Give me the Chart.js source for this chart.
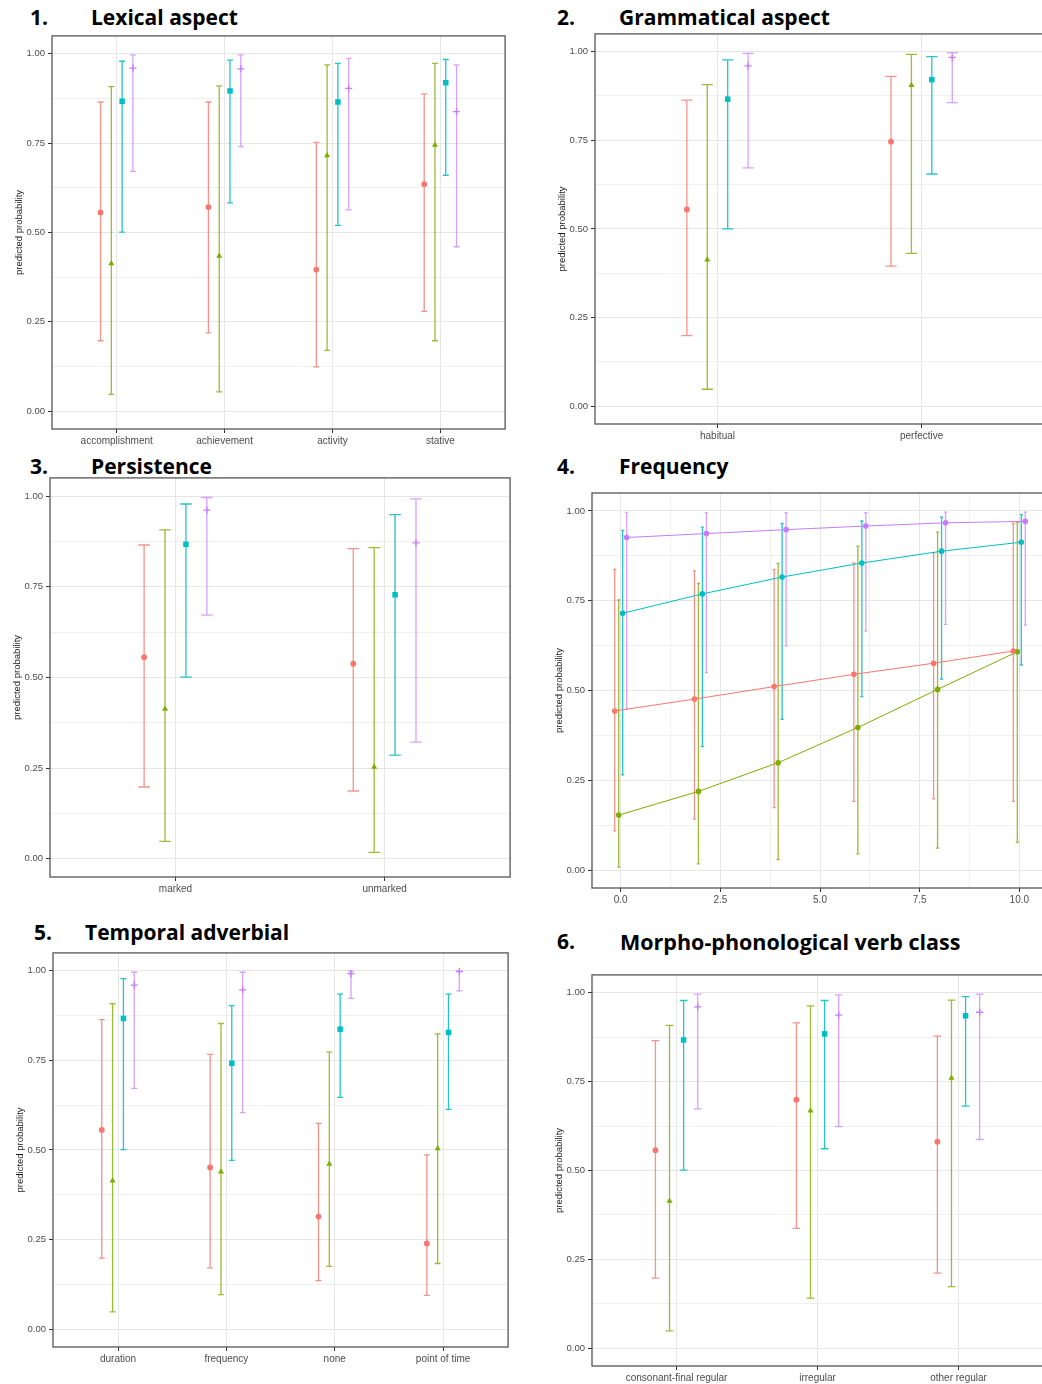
<!DOCTYPE html>
<html>
<head>
<meta charset="utf-8">
<script src="https://cdn.jsdelivr.net/npm/chart.js@4"></script>
<style>
  html, body { margin: 0; padding: 0; background: #fff; overflow: hidden; }
  body { width: 1042px; height: 1384px; position: relative; }
  canvas { position: absolute; }
  .head { position: absolute; font-family: "Open Sans", Lato, sans-serif; font-weight: 700; font-size: 21px; line-height: 21px; color: #000; white-space: nowrap; }
</style>
</head>
<body>
<div class="head" style="left:30px;top:7px">1.</div><div class="head" style="left:91px;top:7px">Lexical aspect</div>
<div class="head" style="left:557px;top:7px">2.</div><div class="head" style="left:619px;top:7px">Grammatical aspect</div>
<div class="head" style="left:30px;top:456px">3.</div><div class="head" style="left:91px;top:456px">Persistence</div>
<div class="head" style="left:557px;top:456px">4.</div><div class="head" style="left:619px;top:456px">Frequency</div>
<div class="head" style="left:34px;top:922px">5.</div><div class="head" style="left:85px;top:922px">Temporal adverbial</div>
<div class="head" style="left:557px;top:931px">6.</div><div class="head" style="left:620px;top:931px;font-size:21.5px">Morpho-phonological verb class</div>

<canvas id="c1"></canvas>
<canvas id="c2"></canvas>
<canvas id="c3"></canvas>
<canvas id="c4"></canvas>
<canvas id="c5"></canvas>
<canvas id="c6"></canvas>

<script>
// groups in ggplot order: red (circle), green (triangle), teal (square), purple (plus)
const seriesColors = ['#F8766D', '#7CAE00', '#00BFC4', '#C77CFF'];
const barColors = ['rgba(240,120,110,0.8)', 'rgba(140,175,20,0.85)', 'rgba(0,185,190,0.85)', 'rgba(200,130,250,0.75)'];
const seriesShapes = ['circle', 'triangle', 'rect', 'cross'];
const dodge = [-0.15, -0.05, 0.05, 0.15];

// 1. Lexical aspect
const lexicalCats = ['accomplishment', 'achievement', 'activity', 'stative'];
const lexicalEst = [
  [0.556, 0.571, 0.396, 0.635],
  [0.413, 0.434, 0.715, 0.745],
  [0.867, 0.896, 0.865, 0.919],
  [0.960, 0.958, 0.903, 0.838]
];
const lexicalLo = [
  [0.197, 0.219, 0.124, 0.279],
  [0.047, 0.054, 0.170, 0.197],
  [0.501, 0.583, 0.520, 0.660],
  [0.671, 0.740, 0.563, 0.460]
];
const lexicalHi = [
  [0.865, 0.865, 0.752, 0.888],
  [0.908, 0.910, 0.969, 0.973],
  [0.979, 0.982, 0.973, 0.984],
  [0.997, 0.997, 0.987, 0.969]
];

// 2. Grammatical aspect
const gramCats = ['habitual', 'perfective'];
const gramEst = [[0.555, 0.746], [0.413, 0.905], [0.866, 0.921], [0.960, 0.984]];
const gramLo = [[0.199, 0.395], [0.048, 0.431], [0.500, 0.655], [0.672, 0.856]];
const gramHi = [[0.863, 0.930], [0.907, 0.992], [0.977, 0.986], [0.995, 0.997]];

// 3. Persistence
const persCats = ['marked', 'unmarked'];
const persEst = [[0.556, 0.538], [0.413, 0.253], [0.867, 0.728], [0.961, 0.871]];
const persLo = [[0.198, 0.187], [0.048, 0.018], [0.501, 0.286], [0.672, 0.322]];
const persHi = [[0.865, 0.855], [0.907, 0.858], [0.978, 0.949], [0.996, 0.992]];

// 4. Frequency
const freqX = [0, 2, 4, 6, 8, 10];
const freqEst = [
  [0.443, 0.476, 0.511, 0.545, 0.576, 0.610],
  [0.153, 0.219, 0.299, 0.397, 0.503, 0.608],
  [0.715, 0.769, 0.816, 0.855, 0.888, 0.913],
  [0.926, 0.937, 0.948, 0.958, 0.967, 0.971]
];
const freqLo = [
  [0.109, 0.142, 0.174, 0.191, 0.198, 0.191],
  [0.008, 0.017, 0.029, 0.045, 0.061, 0.077],
  [0.265, 0.344, 0.420, 0.483, 0.532, 0.571],
  [0.448, 0.550, 0.624, 0.666, 0.684, 0.682]
];
const freqHi = [
  [0.837, 0.833, 0.837, 0.855, 0.883, 0.965],
  [0.752, 0.798, 0.854, 0.902, 0.941, 0.968],
  [0.946, 0.955, 0.965, 0.972, 0.983, 0.990],
  [0.996, 0.995, 0.995, 0.995, 0.997, 0.997]
];

// 5. Temporal adverbial
const tempCats = ['duration', 'frequency', 'none', 'point of time'];
const tempEst = [
  [0.556, 0.451, 0.314, 0.239],
  [0.414, 0.439, 0.461, 0.504],
  [0.867, 0.742, 0.837, 0.828],
  [0.960, 0.947, 0.992, 0.998]
];
const tempLo = [
  [0.198, 0.171, 0.135, 0.094],
  [0.048, 0.096, 0.175, 0.183],
  [0.501, 0.471, 0.647, 0.613],
  [0.672, 0.604, 0.923, 0.944]
];
const tempHi = [
  [0.864, 0.767, 0.574, 0.486],
  [0.908, 0.853, 0.773, 0.824],
  [0.978, 0.903, 0.935, 0.935],
  [0.996, 0.996, 0.999, 1.000]
];

// 6. Morpho-phonological verb class
const verbCats = ['consonant-final regular', 'irregular', 'other regular'];
const verbEst = [[0.557, 0.699, 0.581], [0.414, 0.668, 0.760], [0.867, 0.884, 0.935], [0.960, 0.937, 0.945]];
const verbLo = [[0.197, 0.337, 0.211], [0.049, 0.141, 0.173], [0.501, 0.561, 0.681], [0.673, 0.623, 0.587]];
const verbHi = [[0.865, 0.915, 0.878], [0.908, 0.963, 0.979], [0.978, 0.978, 0.989], [0.996, 0.994, 0.996]];

const yTicks = [0, 0.125, 0.25, 0.375, 0.5, 0.625, 0.75, 0.875, 1];
const isMajor = (v, step) => Math.abs(v / step - Math.round(v / step)) < 1e-6;

// error bars under the points + panel border
const errorBars = {
  id: 'errorBars',
  beforeDatasetsDraw(chart, args, opts) {
    const { ctx, scales: { x, y } } = chart;
    ctx.save();
    chart.data.datasets.forEach(ds => {
      ctx.strokeStyle = ds.barColor;
      ctx.lineWidth = 1.3;
      ds.data.forEach(p => {
        const px = x.getPixelForValue(p.x);
        const half = x.getPixelForValue(p.x + opts.cap / 2) - px;
        const top = y.getPixelForValue(p.hi);
        const bot = y.getPixelForValue(p.lo);
        ctx.beginPath();
        ctx.moveTo(px, top); ctx.lineTo(px, bot);
        ctx.moveTo(px - half, top); ctx.lineTo(px + half, top);
        ctx.moveTo(px - half, bot); ctx.lineTo(px + half, bot);
        ctx.stroke();
      });
    });
    ctx.restore();
  },
  afterDraw(chart) {
    const { ctx, chartArea: a } = chart;
    ctx.save();
    ctx.strokeStyle = '#555';
    ctx.lineWidth = 1.3;
    ctx.strokeRect(a.left, a.top, a.right - a.left, a.bottom - a.top);
    ctx.restore();
  }
};

const Y_W = 42, X_H = 20, PAD = 4;
const pointSizes = [2.9, 3.5, 3.9, 3.6];

function makePanel(id, frame, xs, labels, est, lo, hi, opt) {
  const cv = document.getElementById(id);
  cv.width = frame.r - frame.l + Y_W + PAD;
  cv.height = frame.b - frame.t + X_H + PAD;
  cv.style.left = (frame.l - Y_W) + 'px';
  cv.style.top = (frame.t - PAD) + 'px';

  const datasets = est.map((row, s) => ({
    data: row.map((v, j) => ({ x: xs[j] + dodge[s], y: v, lo: lo[s][j], hi: hi[s][j] })),
    showLine: opt.lines,
    borderColor: seriesColors[s],
    backgroundColor: seriesColors[s],
    borderWidth: 1,
    barColor: barColors[s],
    pointStyle: opt.lines ? 'circle' : seriesShapes[s],
    pointRadius: opt.lines ? 2.8 : pointSizes[s],
    pointBorderWidth: s === 3 && !opt.lines ? 1.3 : 0,
    pointBorderColor: seriesColors[s],
    pointHoverRadius: 3
  }));

  new Chart(cv, {
    type: 'scatter',
    data: { datasets },
    plugins: [errorBars],
    options: {
      responsive: false,
      animation: false,
      events: [],
      layout: { padding: { top: PAD, right: PAD, left: 0, bottom: 0 } },
      plugins: {
        legend: { display: false },
        tooltip: { enabled: false },
        errorBars: { cap: opt.cap }
      },
      scales: {
        x: {
          type: 'linear',
          min: opt.xmin, max: opt.xmax,
          afterBuildTicks: sc => { sc.ticks = opt.xticks.map(v => ({ value: v })); },
          afterFit: sc => { sc.height = X_H; sc.paddingLeft = 0; sc.paddingRight = 0; },
          border: { display: false },
          grid: {
            color: c => isMajor(c.tick.value, opt.xstep) ? '#e6e6e6' : '#f0f0f0',
            tickColor: c => isMajor(c.tick.value, opt.xstep) ? '#333' : 'rgba(0,0,0,0)',
            tickLength: 4,
            lineWidth: 1
          },
          ticks: {
            autoSkip: false, maxRotation: 0, padding: 2,
            color: '#4d4d4d',
            font: { family: 'Liberation Sans, Arial, sans-serif', size: 10 },
            callback: v => labels ? (labels[v] !== undefined && Number.isInteger(v) ? labels[v] : '')
                                  : (isMajor(v, opt.xstep) ? v.toFixed(1) : '')
          }
        },
        y: {
          min: -0.05, max: 1.05,
          afterBuildTicks: sc => { sc.ticks = yTicks.map(v => ({ value: v })); },
          afterFit: sc => { sc.width = Y_W; sc.paddingTop = 0; sc.paddingBottom = 0; },
          border: { display: false },
          grid: {
            color: c => isMajor(c.tick.value, 0.25) ? '#e6e6e6' : '#f0f0f0',
            tickColor: c => isMajor(c.tick.value, 0.25) ? '#333' : 'rgba(0,0,0,0)',
            tickLength: 4,
            lineWidth: 1
          },
          ticks: {
            padding: 3,
            color: '#4d4d4d',
            font: { family: 'Liberation Sans, Arial, sans-serif', size: 9.5 },
            callback: v => isMajor(v, 0.25) ? v.toFixed(2) : ''
          },
          title: {
            display: true,
            text: 'predicted probability',
            color: '#1a1a1a',
            padding: { top: 4, bottom: 2 },
            font: { family: 'Liberation Sans, Arial, sans-serif', size: 9.5 }
          }
        }
      }
    }
  });
}

const catOpt = n => ({
  lines: false, cap: 0.055, xmin: -0.6, xmax: n - 0.4, xstep: 1,
  xticks: Array.from({ length: n }, (_, i) => i)
});
const idx = arr => arr.map((_, i) => i);

makePanel('c1', { l: 52, t: 35, r: 506, b: 429 }, idx(lexicalCats), lexicalCats, lexicalEst, lexicalLo, lexicalHi, catOpt(lexicalCats.length));
makePanel('c2', { l: 595, t: 33, r: 1045, b: 424 }, idx(gramCats), gramCats, gramEst, gramLo, gramHi, catOpt(gramCats.length));
makePanel('c3', { l: 50, t: 477, r: 511, b: 877 }, idx(persCats), persCats, persEst, persLo, persHi, catOpt(persCats.length));
makePanel('c4', { l: 592, t: 493, r: 1048, b: 888 }, freqX, null, freqEst, freqLo, freqHi, {
  lines: true, cap: 0.08, xmin: -0.72, xmax: 10.72, xstep: 2.5,
  xticks: [0, 1.25, 2.5, 3.75, 5, 6.25, 7.5, 8.75, 10]
});
makePanel('c5', { l: 53, t: 952, r: 509, b: 1347 }, idx(tempCats), tempCats, tempEst, tempLo, tempHi, catOpt(tempCats.length));
makePanel('c6', { l: 592, t: 974, r: 1044, b: 1366 }, idx(verbCats), verbCats, verbEst, verbLo, verbHi, catOpt(verbCats.length));
</script>
</body>
</html>
